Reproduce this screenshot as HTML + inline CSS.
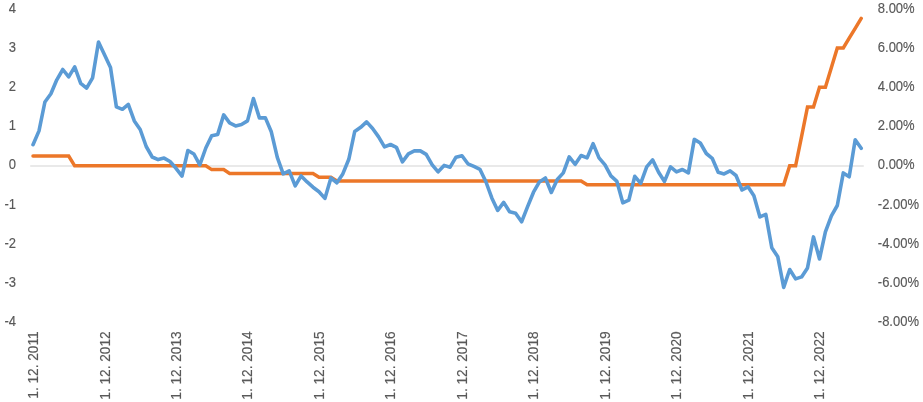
<!DOCTYPE html>
<html><head><meta charset="utf-8"><title>Chart</title>
<style>
html,body{margin:0;padding:0;background:#fff;}
body{width:923px;height:402px;overflow:hidden;}
svg{display:block;filter:blur(0.4px);}
text{font-family:"Liberation Sans",sans-serif;font-size:13px;fill:#595959;stroke:#595959;stroke-width:0.15px;}
</style></head><body>
<svg width="923" height="402" viewBox="0 0 923 402">
<rect width="923" height="402" fill="#ffffff"/>
<line x1="30.2" y1="166" x2="863.8" y2="166" stroke="#d4d4d4" stroke-width="1.2"/>
<polyline fill="none" stroke="#ec7729" stroke-width="3.5" stroke-linejoin="miter" stroke-miterlimit="3" stroke-linecap="round" points="33.0,156.0 39.0,156.0 44.9,156.0 50.9,156.0 56.8,156.0 62.8,156.0 68.7,156.0 74.7,165.8 80.7,165.8 86.6,165.8 92.6,165.8 98.5,165.8 104.5,165.8 110.5,165.8 116.4,165.8 122.4,165.8 128.3,165.8 134.3,165.8 140.2,165.8 146.2,165.8 152.2,165.8 158.1,165.8 164.1,165.8 170.0,165.8 176.0,165.8 182.0,165.8 187.9,165.8 193.9,165.8 199.8,165.8 205.8,165.8 211.7,169.6 217.7,169.6 223.7,169.6 229.6,173.4 235.6,173.4 241.5,173.4 247.5,173.4 253.4,173.4 259.4,173.4 265.4,173.4 271.3,173.4 277.3,173.4 283.2,173.4 289.2,173.4 295.2,173.4 301.1,173.4 307.1,173.4 313.0,173.4 319.0,177.2 324.9,177.2 330.9,177.2 336.9,181.0 342.8,181.0 348.8,181.0 354.7,181.0 360.7,181.0 366.6,181.0 372.6,181.0 378.6,181.0 384.5,181.0 390.5,181.0 396.4,181.0 402.4,181.0 408.4,181.0 414.3,181.0 420.3,181.0 426.2,181.0 432.2,181.0 438.1,181.0 444.1,181.0 450.1,181.0 456.0,181.0 462.0,181.0 467.9,181.0 473.9,181.0 479.9,181.0 485.8,181.0 491.8,181.0 497.7,181.0 503.7,181.0 509.6,181.0 515.6,181.0 521.6,181.0 527.5,181.0 533.5,181.0 539.4,181.0 545.4,181.0 551.3,181.0 557.3,181.0 563.3,181.0 569.2,181.0 575.2,181.0 581.1,181.0 587.1,184.8 593.1,184.8 599.0,184.8 605.0,184.8 610.9,184.8 616.9,184.8 622.8,184.8 628.8,184.8 634.8,184.8 640.7,184.8 646.7,184.8 652.6,184.8 658.6,184.8 664.5,184.8 670.5,184.8 676.5,184.8 682.4,184.8 688.4,184.8 694.3,184.8 700.3,184.8 706.3,184.8 712.2,184.8 718.2,184.8 724.1,184.8 730.1,184.8 736.0,184.8 742.0,184.8 748.0,184.8 753.9,184.8 759.9,184.8 765.8,184.8 771.8,184.8 777.8,184.8 783.7,184.8 789.7,165.8 795.6,165.8 801.6,136.3 807.5,106.9 813.5,106.9 819.5,87.2 825.4,87.2 831.4,67.6 837.3,47.9 843.3,47.9 849.2,38.1 855.2,28.3 861.2,18.4"/>
<polyline fill="none" stroke="#5b9bd5" stroke-width="3.6" stroke-linejoin="round" stroke-linecap="round" points="33.0,144.7 39.0,130.9 44.9,102.0 50.9,93.8 56.8,79.8 62.8,69.5 68.7,76.9 74.7,66.9 80.7,83.4 86.6,88.2 92.6,77.8 98.5,42.0 104.5,54.8 110.5,67.5 116.4,106.9 122.4,109.3 128.3,104.4 134.3,120.9 140.2,129.5 146.2,146.5 152.2,157.0 158.1,159.6 164.1,158.1 170.0,161.5 176.0,168.3 182.0,176.1 187.9,150.5 193.9,154.0 199.8,164.9 205.8,148.0 211.7,135.7 217.7,134.4 223.7,114.9 229.6,122.9 235.6,125.9 241.5,124.5 247.5,120.9 253.4,98.6 259.4,117.9 265.4,117.9 271.3,131.8 277.3,157.4 283.2,173.9 289.2,170.9 295.2,185.8 301.1,175.9 307.1,181.9 313.0,187.2 319.0,191.8 324.9,198.4 330.9,177.9 336.9,182.8 342.8,173.9 348.8,159.3 354.7,131.5 360.7,127.3 366.6,121.9 372.6,128.5 378.6,136.9 384.5,146.9 390.5,144.5 396.4,147.3 402.4,161.8 408.4,153.8 414.3,150.9 420.3,150.9 426.2,154.4 432.2,164.8 438.1,171.8 444.1,165.4 450.1,167.2 456.0,157.2 462.0,155.8 467.9,163.8 473.9,166.4 479.9,169.3 485.8,181.5 491.8,197.9 497.7,210.4 503.7,202.4 509.6,211.8 515.6,213.2 521.6,221.8 527.5,206.8 533.5,192.2 539.4,181.9 545.4,178.0 551.3,192.5 557.3,179.5 563.3,172.9 569.2,156.9 575.2,164.3 581.1,155.5 587.1,157.9 593.1,143.6 599.0,157.9 605.0,164.9 610.9,175.9 616.9,181.4 622.8,202.8 628.8,200.2 634.8,176.3 640.7,183.4 646.7,166.9 652.6,159.9 658.6,172.3 664.5,181.4 670.5,166.9 676.5,171.9 682.4,169.5 688.4,172.9 694.3,139.4 700.3,143.0 706.3,153.5 712.2,158.3 718.2,172.3 724.1,173.9 730.1,170.9 736.0,175.5 742.0,190.0 748.0,186.8 753.9,195.8 759.9,216.9 765.8,214.4 771.8,247.8 777.8,256.8 783.7,287.4 789.7,269.5 795.6,278.9 801.6,276.9 807.5,267.9 813.5,236.9 819.5,259.0 825.4,231.9 831.4,215.9 837.3,205.5 843.3,172.9 849.2,176.8 855.2,139.8 861.2,148.3"/>
<g text-anchor="end">
<text transform="translate(16.0,13.2) scale(1,1.13)">4</text>
<text transform="translate(16.0,52.2) scale(1,1.13)">3</text>
<text transform="translate(16.0,91.2) scale(1,1.13)">2</text>
<text transform="translate(16.0,130.2) scale(1,1.13)">1</text>
<text transform="translate(16.0,169.2) scale(1,1.13)">0</text>
<text transform="translate(16.0,209.2) scale(1,1.13)">-1</text>
<text transform="translate(16.0,248.2) scale(1,1.13)">-2</text>
<text transform="translate(16.0,287.2) scale(1,1.13)">-3</text>
<text transform="translate(16.0,326.2) scale(1,1.13)">-4</text>
</g>
<g text-anchor="start">
<text transform="translate(877.8,13.2) scale(1,1.13)">8.00%</text>
<text transform="translate(877.8,52.2) scale(1,1.13)">6.00%</text>
<text transform="translate(877.8,91.2) scale(1,1.13)">4.00%</text>
<text transform="translate(877.8,130.2) scale(1,1.13)">2.00%</text>
<text transform="translate(877.8,169.2) scale(1,1.13)">0.00%</text>
<text transform="translate(877.8,209.2) scale(1,1.13)">-2.00%</text>
<text transform="translate(877.8,248.2) scale(1,1.13)">-4.00%</text>
<text transform="translate(877.8,287.2) scale(1,1.13)">-6.00%</text>
<text transform="translate(877.8,326.2) scale(1,1.13)">-8.00%</text>
</g>
<g text-anchor="end">
<text transform="translate(38.0,331.4) rotate(-90) scale(1.05,1.1)">1. 12. 2011</text>
<text transform="translate(109.5,331.4) rotate(-90) scale(1.05,1.1)">1. 12. 2012</text>
<text transform="translate(180.9,331.4) rotate(-90) scale(1.05,1.1)">1. 12. 2013</text>
<text transform="translate(252.4,331.4) rotate(-90) scale(1.05,1.1)">1. 12. 2014</text>
<text transform="translate(323.8,331.4) rotate(-90) scale(1.05,1.1)">1. 12. 2015</text>
<text transform="translate(395.3,331.4) rotate(-90) scale(1.05,1.1)">1. 12. 2016</text>
<text transform="translate(466.8,331.4) rotate(-90) scale(1.05,1.1)">1. 12. 2017</text>
<text transform="translate(538.2,331.4) rotate(-90) scale(1.05,1.1)">1. 12. 2018</text>
<text transform="translate(609.7,331.4) rotate(-90) scale(1.05,1.1)">1. 12. 2019</text>
<text transform="translate(681.1,331.4) rotate(-90) scale(1.05,1.1)">1. 12. 2020</text>
<text transform="translate(752.6,331.4) rotate(-90) scale(1.05,1.1)">1. 12. 2021</text>
<text transform="translate(824.1,331.4) rotate(-90) scale(1.05,1.1)">1. 12. 2022</text>
</g>
</svg>
</body></html>
